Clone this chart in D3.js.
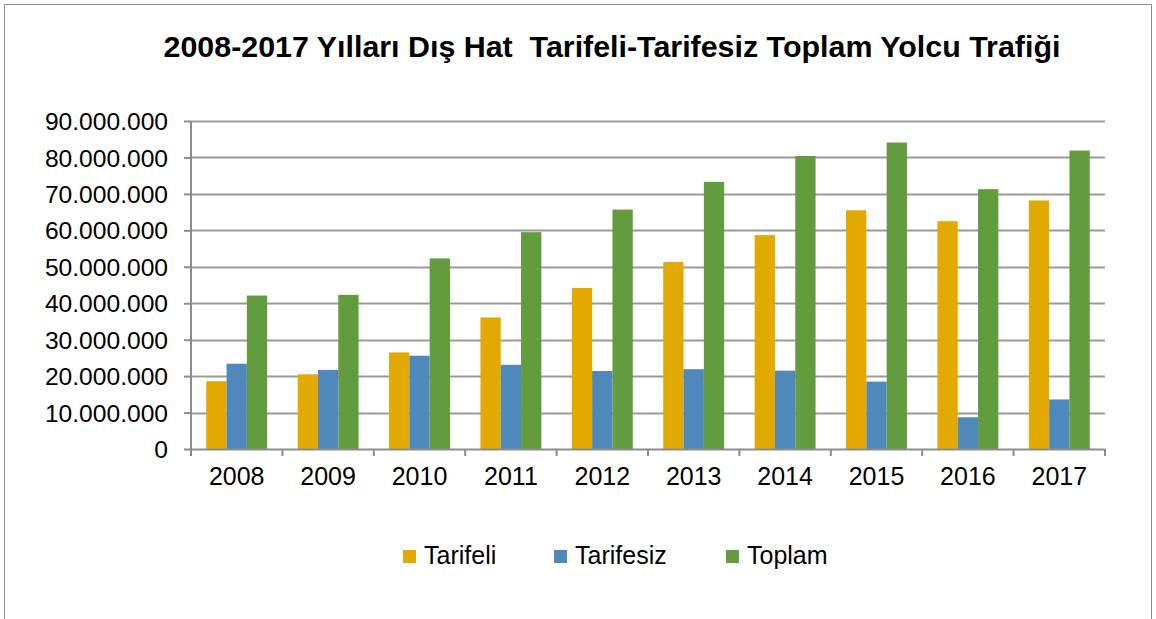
<!DOCTYPE html>
<html>
<head>
<meta charset="utf-8">
<script src="https://cdn.jsdelivr.net/npm/d3@7/dist/d3.min.js"></script>
<style>
  body { margin: 0; background: #fff; }
  svg { font-family: "Liberation Sans", Arial, sans-serif; }
</style>
</head>
<body>
<div id="chart"></div>
<script>
// veriler
const years = ["2008", "2009", "2010", "2011", "2012", "2013", "2014", "2015", "2016", "2017"];
const tarifeli = [18600000, 20500000, 26500000, 36100000, 44200000, 51300000, 58700000, 65500000, 62500000, 68200000];
const tarifesiz = [23400000, 21700000, 25600000, 23100000, 21400000, 21900000, 21500000, 18500000, 8700000, 13600000];
const toplam = [42100000, 42300000, 52300000, 59500000, 65700000, 73300000, 80400000, 84100000, 71300000, 81900000];
const seriesNames = ["Tarifeli", "Tarifesiz", "Toplam"];
const yTicks = [0, 10000000, 20000000, 30000000, 40000000, 50000000, 60000000, 70000000, 80000000, 90000000];

const colors = ["#E2AA00", "#4F89BC", "#639B3F"];
const seriesValues = [tarifeli, tarifesiz, toplam];

const W = 1156, H = 619;
const margin = {top: 121, right: 51, bottom: 170, left: 191};
const width = W - margin.left - margin.right;
const height = H - margin.top - margin.bottom;

const svg = d3.select("#chart").append("svg")
    .attr("width", W)
    .attr("height", H);

// çerçeve
svg.append("path")
    .attr("d", "M4.5," + H + "V4.5H1151.5V" + H)
    .attr("fill", "none")
    .attr("stroke", "#8c8c8c")
    .attr("stroke-width", 1);

svg.append("text")
    .attr("x", 612)
    .attr("y", 57)
    .attr("text-anchor", "middle")
    .attr("font-size", "30.4px")
    .attr("font-weight", "bold")
    .text("2008-2017 Yılları Dış Hat  Tarifeli-Tarifesiz Toplam Yolcu Trafiği")
    .attr("xml:space", "preserve")
    .style("white-space", "pre");

const g = svg.append("g")
    .attr("transform", "translate(" + margin.left + "," + margin.top + ")");

const x = d3.scaleBand()
    .domain(years)
    .range([0, width])
    .paddingInner(0)
    .paddingOuter(0);

const y = d3.scaleLinear()
    .domain([0, 90000000])
    .range([height, 0]);

const fmt = d => d3.format(",")(d).replace(/,/g, ".");

// ızgara çizgileri
g.append("g")
    .selectAll("line")
    .data(yTicks.slice(1))
    .join("line")
    .attr("x1", 0)
    .attr("x2", width)
    .attr("y1", d => Math.round(y(d)) + 0.5)
    .attr("y2", d => Math.round(y(d)) + 0.5)
    .attr("stroke", "#9a9a9a")
    .attr("stroke-width", 2);

// çubuklar
const bw = x.bandwidth() / 4.5;
seriesValues.forEach(function (vals, si) {
    g.append("g")
        .selectAll("rect")
        .data(vals)
        .join("rect")
        .attr("x", (d, i) => x(years[i]) + bw * 0.75 + si * bw)
        .attr("y", d => y(d))
        .attr("width", bw)
        .attr("height", d => height - y(d))
        .attr("fill", colors[si]);
});

// y ekseni
const yAxis = g.append("g")
    .call(d3.axisLeft(y).tickValues(yTicks).tickFormat(fmt).tickSize(7).tickPadding(16));
yAxis.selectAll(".tick line").attr("stroke", "#8c8c8c").attr("stroke-width", 2);
yAxis.selectAll("text").attr("font-size", "24.6px").attr("fill", "#000").attr("dy", "0.35em");
yAxis.select(".domain").attr("stroke", "#8c8c8c").attr("stroke-width", 2).attr("d", "M0,0V" + height);

// x ekseni
const xAxis = g.append("g")
    .attr("transform", "translate(0," + height + ")")
    .call(d3.axisBottom(x).tickSize(0).tickPadding(18));
xAxis.select(".domain").attr("stroke", "#8c8c8c").attr("stroke-width", 2);
xAxis.selectAll("text").attr("font-size", "25px").attr("fill", "#000");
xAxis.append("g")
    .selectAll("line")
    .data(d3.range(years.length + 1))
    .join("line")
    .attr("x1", i => i * x.step())
    .attr("x2", i => i * x.step())
    .attr("y1", 0)
    .attr("y2", 7)
    .attr("stroke", "#8c8c8c")
    .attr("stroke-width", 2);

// lejant
const legendX = [403, 554, 726];
const legend = svg.append("g")
    .selectAll("g")
    .data(seriesNames)
    .join("g")
    .attr("transform", (d, i) => "translate(" + legendX[i] + ",550)");
legend.append("rect")
    .attr("width", 13)
    .attr("height", 13)
    .attr("fill", (d, i) => colors[i]);
legend.append("text")
    .attr("x", 21)
    .attr("y", 14)
    .attr("font-size", "25px")
    .attr("fill", "#000")
    .text(d => d);
</script>
</body>
</html>
